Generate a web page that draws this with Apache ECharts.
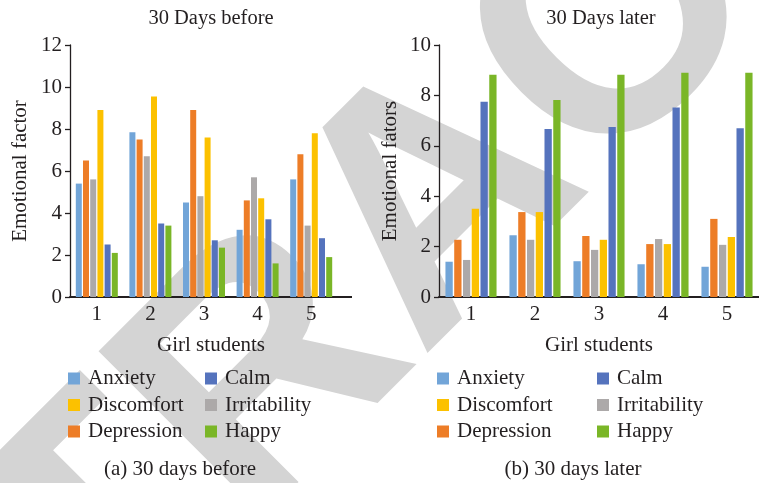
<!DOCTYPE html>
<html>
<head>
<meta charset="utf-8">
<script src="https://cdn.jsdelivr.net/npm/echarts@6/dist/echarts.min.js"></script>
<style>
  html, body { margin: 0; padding: 0; background: #fff; }
  #chart { width: 759px; height: 483px; }
</style>
</head>
<body>
<div id="chart"></div>
<script>
// Girl students on the x axis
const students = ['1', '2', '3', '4', '5'];
const seriesNames = ['Anxiety', 'Depression', 'Irritability', 'Discomfort', 'Calm', 'Happy'];
const seriesColors = ['#72A5D8', '#ED7D27', '#ACA9A9', '#FCC100', '#5573BD', '#7AB627'];

// 30 days before
const beforeAnxiety = [5.4, 7.85, 4.5, 3.2, 5.6];
const beforeDepression = [6.5, 7.5, 8.9, 4.6, 6.8];
const beforeIrritability = [5.6, 6.7, 4.8, 5.7, 3.4];
const beforeDiscomfort = [8.9, 9.55, 7.6, 4.7, 7.8];
const beforeCalm = [2.5, 3.5, 2.7, 3.7, 2.8];
const beforeHappy = [2.1, 3.4, 2.35, 1.6, 1.9];

// 30 days later
const laterAnxiety = [1.4, 2.45, 1.42, 1.3, 1.2];
const laterDepression = [2.27, 3.37, 2.42, 2.1, 3.1];
const laterIrritability = [1.47, 2.27, 1.87, 2.3, 2.07];
const laterDiscomfort = [3.5, 3.37, 2.27, 2.1, 2.38];
const laterCalm = [7.75, 6.67, 6.75, 7.52, 6.7];
const laterHappy = [8.82, 7.82, 8.82, 8.9, 8.9];

const beforeData = [beforeAnxiety, beforeDepression, beforeIrritability, beforeDiscomfort, beforeCalm, beforeHappy];
const laterData = [laterAnxiety, laterDepression, laterIrritability, laterDiscomfort, laterCalm, laterHappy];

const FONT = 'Liberation Serif';
const INK = '#231F20';
const FS = 21;

function textEl(text, x, y, size) {
    return {
        type: 'text', x: x, y: y, z: 10,
        style: { text: text, fill: INK, font: size + 'px "' + FONT + '"', textAlign: 'center', textVerticalAlign: 'middle' }
    };
}

function xAxisFor(gridIndex, namePad) {
    return {
        type: 'category', gridIndex: gridIndex, data: students,
        name: 'Girl students', nameLocation: 'middle', nameGap: 38,
        nameTextStyle: { fontFamily: FONT, fontSize: FS, color: INK, padding: [0, 0, 0, namePad] },
        axisLine: { lineStyle: { color: INK, width: 2 } },
        axisTick: { length: 6, lineStyle: { color: INK, width: 1.5 } },
        axisLabel: { fontFamily: FONT, fontSize: FS, color: INK, margin: 7 }
    };
}

function yAxisFor(gridIndex, max, name, gap) {
    return {
        type: 'value', gridIndex: gridIndex, min: 0, max: max, interval: 2,
        name: name, nameLocation: 'middle', nameGap: gap,
        nameTextStyle: { fontFamily: FONT, fontSize: FS, color: INK },
        axisLine: { show: true, lineStyle: { color: INK, width: 1.3 } },
        axisTick: { show: true, length: 5, lineStyle: { color: INK, width: 1.3 } },
        axisLabel: { fontFamily: FONT, fontSize: FS, color: INK, margin: 8 },
        splitLine: { show: false }
    };
}

function legendCol(names, left) {
    return {
        data: names, orient: 'vertical', left: left, top: 368, padding: 0,
        icon: 'rect', itemWidth: 12, itemHeight: 12, itemGap: 5.5,
        textStyle: { fontFamily: FONT, fontSize: FS, color: INK, lineHeight: 20, padding: [0, 0, 0, 3] }
    };
}

const series = [];
seriesNames.forEach((name, i) => {
    series.push({
        name: name, type: 'bar', xAxisIndex: 0, yAxisIndex: 0,
        data: beforeData[i], barWidth: 6, barGap: '20%',
        itemStyle: { color: seriesColors[i] }
    });
});
seriesNames.forEach((name, i) => {
    series.push({
        name: name, type: 'bar', xAxisIndex: 1, yAxisIndex: 1,
        data: laterData[i], barWidth: 7.3, barGap: '20%',
        itemStyle: { color: seriesColors[i] }
    });
});

const chart = echarts.init(document.getElementById('chart'));
chart.setOption({
    backgroundColor: '#fff',
    animation: false,
    grid: [
        { left: 70, top: 45, width: 268, height: 252 },
        { left: 439, top: 45, width: 329, height: 252 }
    ],
    xAxis: [xAxisFor(0, 14), xAxisFor(1, 0)],
    yAxis: [yAxisFor(0, 12, 'Emotional factor', 39), yAxisFor(1, 10, 'Emotional fators', 38)],
    legend: [
        legendCol(['Anxiety', 'Discomfort', 'Depression'], 68),
        legendCol(['Calm', 'Irritability', 'Happy'], 205),
        legendCol(['Anxiety', 'Discomfort', 'Depression'], 437),
        legendCol(['Calm', 'Irritability', 'Happy'], 597)
    ],
    graphic: [
        // retraction watermark behind the plots
        {
            type: 'text', x: 442, y: 206, rotation: Math.PI / 4, z: -10,
            style: { text: 'RETRACTED', fill: '#D4D4D4', font: 'bold 340px "Liberation Sans"', textAlign: 'center', textVerticalAlign: 'middle' }
        },
        // extra stub of the left x axis line
        { type: 'line', z: 5, shape: { x1: 338, y1: 297, x2: 352, y2: 297 }, style: { stroke: INK, lineWidth: 2 } },
        textEl('30 Days before', 211, 19, 20.5),
        textEl('30 Days later', 601, 19, 20.5),
        textEl('(a) 30 days before', 180, 469, FS),
        textEl('(b) 30 days later', 573, 469, FS)
    ],
    series: series
});
</script>
</body>
</html>
